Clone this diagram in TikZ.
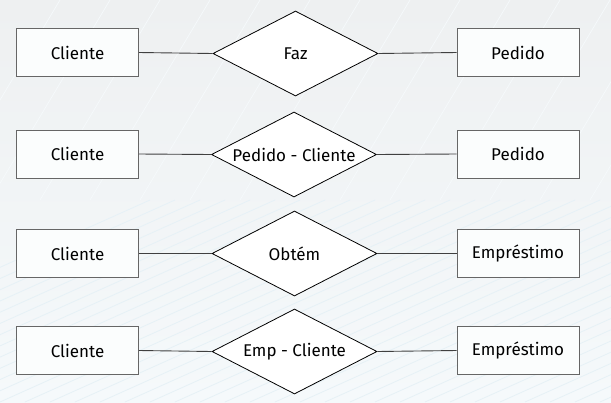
\documentclass[tikz,border=0pt]{standalone}
\usepackage{fontspec}
\setmainfont{Fira Sans}
\usetikzlibrary{shapes.geometric}
\definecolor{bgtop}{HTML}{EEF0F1}
\definecolor{bgbot}{HTML}{F5F9FB}
\definecolor{streak}{HTML}{E6F1F6}
\definecolor{boxline}{HTML}{666666}
\definecolor{connline}{HTML}{404040}
\tikzset{
  entity/.style={draw=boxline, line width=1pt, fill=white!60!bgbot, minimum width=122pt, minimum height=48pt, inner sep=0pt, font=\fontsize{17}{20}\selectfont},
  relation/.style={diamond, draw=black, line width=0.8pt, fill=white, minimum width=165pt, minimum height=85pt, inner sep=0pt, font=\fontsize{17}{20}\selectfont},
  conn/.style={draw=connline, line width=0.9pt}
}
\newcommand{\reltext}[1]{\makebox[0pt]{#1}}
\begin{document}
\begin{tikzpicture}[x=1pt,y=-1pt]
\useasboundingbox (0,0) rectangle (611,402);
\shade[top color=bgtop, bottom color=bgbot] (0,0) rectangle (611,402);
\begin{scope}
\clip (0,0) rectangle (611,402);
\foreach \i in {0,...,40}{
  \draw[streak, line width=0.8pt] (-300+\i*25, 402) -- (150+\i*25, 200);
}
\foreach \i in {0,...,14}{
  \draw[white!60!streak, line width=0.7pt] (-60+\i*50, 200) -- (60+\i*50, 0);
}
\end{scope}

\node[entity] (c1) at (77.5,52.5) {Cliente};
\node[relation] (r1) at (295.5,53.5) {\reltext{Faz}};
\node[entity] (p1) at (518,52.5) {Pedido};

\node[entity] (c2) at (77.5,154) {Cliente};
\node[relation] (r2) at (294,154.5) {\reltext{Pedido - Cliente}};
\node[entity] (p2) at (518,154) {Pedido};

\node[entity] (c3) at (77.5,253.5) {Cliente};
\node[relation] (r3) at (294.5,253.5) {\reltext{Obtém}};
\node[entity] (p3) at (518,253.5) {Empréstimo};

\node[entity] (c4) at (77.5,350.5) {Cliente};
\node[relation] (r4) at (294.5,351.5) {\reltext{Emp - Cliente}};
\node[entity] (p4) at (518,350.5) {Empréstimo};

\foreach \k in {1,2,3,4}{
  \draw[conn] (c\k.east) -- (r\k.west);
  \draw[conn] (r\k.east) -- (p\k.west);
}
\end{tikzpicture}
\end{document}
